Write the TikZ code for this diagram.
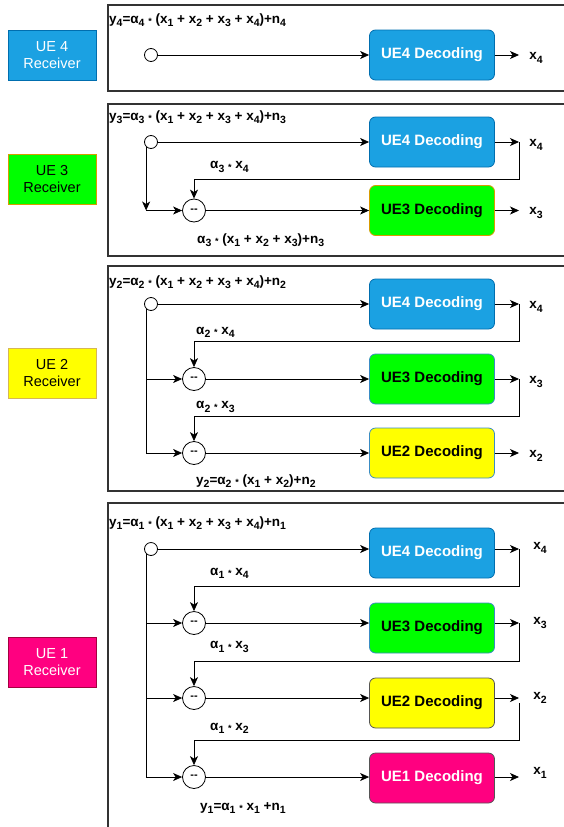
\documentclass[tikz,border=0pt]{standalone}
\usepackage{fontspec}
\setmainfont{Liberation Sans}
\usetikzlibrary{arrows.meta,calc}
\definecolor{ueblue}{HTML}{1BA1E2}
\definecolor{uegreen}{HTML}{00FF00}
\definecolor{ueyellow}{HTML}{FFFF00}
\definecolor{uemag}{HTML}{FF0080}
\definecolor{bblue}{HTML}{006EAF}
\definecolor{bgold}{HTML}{D79B00}
\definecolor{bgoldl}{HTML}{D6B656}
\definecolor{bsky}{HTML}{3A8CC4}
\definecolor{bgray}{HTML}{555555}
\definecolor{bmag}{HTML}{A50040}
\definecolor{framec}{HTML}{333333}
\newcommand\sbs[1]{\raisebox{-0.45ex}{\fontsize{10.5}{10}\selectfont #1}}
\newcommand\mystar{\raisebox{-0.15ex}{\fontsize{9}{9}\selectfont *}}
\begin{document}
\begin{tikzpicture}[x=1pt,y=-1pt,
  frame/.style={draw=framec, line width=1.3pt},
  dec/.style={draw, rounded corners=6pt, minimum width=125pt, minimum height=50pt, font=\fontsize{15}{17}\selectfont\bfseries, line width=0.8pt},
  rcv/.style={draw, minimum width=88pt, minimum height=50pt, align=center, font=\fontsize{14.5}{16.5}\selectfont, line width=0.8pt},
  src/.style={circle, draw, fill=white, minimum size=13pt, inner sep=0pt, line width=0.8pt},
  subtr/.style={circle, draw, fill=white, minimum size=23pt, inner sep=0pt, line width=0.8pt, font=\fontsize{11}{11}\selectfont\bfseries},
  lab/.style={anchor=west, font=\fontsize{13.5}{15}\selectfont\bfseries, inner sep=0pt},
  outl/.style={font=\fontsize{13.5}{15}\selectfont\bfseries, inner sep=0pt},
  conn/.style={line width=0.8pt, -{Stealth[length=9pt,width=8pt,inset=2.5pt]}},
  wire/.style={line width=0.8pt}]
\useasboundingbox (0,0) rectangle (564,827);
\clip (0,0) rectangle (564,827);

% receiver labels
\node[rcv, fill=ueblue, draw=bblue, text=white] (r4) at (52,55) {UE 4\\Receiver};
\node[rcv, fill=uegreen, draw=bgold] (r3) at (52,179) {UE 3\\Receiver};
\node[rcv, fill=ueyellow, draw=bgoldl] (r2) at (52,373) {UE 2\\Receiver};
\node[rcv, fill=uemag, draw=bmag, text=white] (r1) at (52,662) {UE 1\\Receiver};

% frames
\draw[frame] (108,5) rectangle (570,91);
\draw[frame] (108,104) rectangle (570,256);
\draw[frame] (108,266) rectangle (570,491);
\draw[frame] (108,503) rectangle (570,840);

% ---------- Panel 1 ----------
\node[lab] (t1) at (109,20) {y\sbs{4}=α\sbs{4} \mystar{} (x\sbs{1} + x\sbs{2} + x\sbs{3} + x\sbs{4})+n\sbs{4}};
\node[src] (c1) at (151,55) {};
\node[dec, fill=ueblue, draw=bblue, text=white] (d14) at (432,55) {UE4 Decoding};
\coordinate (o14) at (519,55);
\node[outl] (x14) at (536,58) {x\sbs{4}};
\draw[conn] (c1) -- (d14);
\draw[conn] (d14) -- (o14);

% ---------- Panel 2 ----------
\node[lab] (t2) at (109,117) {y\sbs{3}=α\sbs{3} \mystar{} (x\sbs{1} + x\sbs{2} + x\sbs{3} + x\sbs{4})+n\sbs{3}};
\node[src] (c2) at (151,142) {};
\node[dec, fill=ueblue, draw=bblue, text=white] (d24) at (432,142) {UE4 Decoding};
\node[dec, fill=uegreen, draw=bgold] (d23) at (432,210.5) {UE3 Decoding};
\node[subtr] (m21) at (194,210.5) {-{}-};
\coordinate (j21) at (c2.225 |- m21);
\coordinate (o24) at (519,142);
\coordinate (o23) at (519,210.5);
\draw[conn] (c2) -- (d24);
\draw[conn] (c2.225) -- (j21);
\draw[conn] (j21) -- (m21);
\draw[conn] (m21) -- (d23);
\draw[conn] (d24) -- (o24);
\draw[conn] (d23) -- (o23);
\draw[conn] (o24) -- ++(0,37) -| (m21.north);
\node[outl] (x24) at (536,145) {x\sbs{4}};
\node[outl] (x23) at (536,213) {x\sbs{3}};
\node[lab] (a24) at (210,167) {α\sbs{3} \mystar{} x\sbs{4}};
\node[lab] (b2) at (197,240) {α\sbs{3} \mystar{} (x\sbs{1} + x\sbs{2} + x\sbs{3})+n\sbs{3}};

% ---------- Panel 3 ----------
\node[lab] (t3) at (109,282) {y\sbs{2}=α\sbs{2} \mystar{} (x\sbs{1} + x\sbs{2} + x\sbs{3} + x\sbs{4})+n\sbs{2}};
\node[src] (c3) at (151,304) {};
\node[dec, fill=ueblue, draw=bblue, text=white] (d34) at (432,304) {UE4 Decoding};
\node[dec, fill=uegreen, draw=bsky] (d33) at (432,379) {UE3 Decoding};
\node[dec, fill=ueyellow, draw=bsky] (d32) at (432,453) {UE2 Decoding};
\node[subtr] (m31) at (194,379) {-{}-};
\node[subtr] (m32) at (194,453) {-{}-};
\coordinate (j31) at (c3.225 |- m31);
\coordinate (j32) at (c3.225 |- m32);
\coordinate (o34) at (519,304);
\coordinate (o33) at (519,379);
\coordinate (o32) at (519,453);
\draw[conn] (c3) -- (d34);
\draw[wire] (c3.225) -- (j32);
\draw[conn] (j31) -- (m31);
\draw[conn] (j32) -- (m32);
\draw[conn] (m31) -- (d33);
\draw[conn] (m32) -- (d32);
\draw[conn] (d34) -- (o34);
\draw[conn] (d33) -- (o33);
\draw[conn] (d32) -- (o32);
\draw[conn] (o34) -- ++(0,37) -| (m31.north);
\draw[conn] (o33) -- ++(0,37) -| (m32.north);
\node[outl] (x34) at (536,307) {x\sbs{4}};
\node[outl] (x33) at (536,382) {x\sbs{3}};
\node[outl] (x32) at (536,456) {x\sbs{2}};
\node[lab] (a34) at (196,332) {α\sbs{2} \mystar{} x\sbs{4}};
\node[lab] (a33) at (196,407) {α\sbs{2} \mystar{} x\sbs{3}};
\node[lab] (b3) at (196,481) {y\sbs{2}=α\sbs{2} \mystar{} (x\sbs{1} + x\sbs{2})+n\sbs{2}};

% ---------- Panel 4 ----------
\node[lab] (t4) at (109,523) {y\sbs{1}=α\sbs{1} \mystar{} (x\sbs{1} + x\sbs{2} + x\sbs{3} + x\sbs{4})+n\sbs{1}};
\node[src] (c4) at (151,549) {};
\node[dec, fill=ueblue, draw=bblue, text=white] (d44) at (432,553) {UE4 Decoding};
\node[dec, fill=uegreen, draw=bsky] (d43) at (432,628) {UE3 Decoding};
\node[dec, fill=ueyellow, draw=bgray] (d42) at (432,703) {UE2 Decoding};
\node[dec, fill=uemag, draw=bgray, text=white] (d41) at (432,778) {UE1 Decoding};
\node[subtr] (m41) at (194,623) {-{}-};
\node[subtr] (m42) at (194,698) {-{}-};
\node[subtr] (m43) at (194,777) {-{}-};
\coordinate (j41) at (c4.225 |- m41);
\coordinate (j42) at (c4.225 |- m42);
\coordinate (j43) at (c4.225 |- m43);
\coordinate (o44) at (519,549);
\coordinate (o43) at (519,623);
\coordinate (o42) at (519,698);
\coordinate (o41) at (519,777);
\draw[conn] (c4) -- (c4 -| d44.west);
\draw[wire] (c4.225) -- (j43);
\draw[conn] (j41) -- (m41);
\draw[conn] (j42) -- (m42);
\draw[conn] (j43) -- (m43);
\draw[conn] (m41) -- (m41 -| d43.west);
\draw[conn] (m42) -- (m42 -| d42.west);
\draw[conn] (m43) -- (m43 -| d41.west);
\draw[conn] (d44.east |- o44) -- (o44);
\draw[conn] (d43.east |- o43) -- (o43);
\draw[conn] (d42.east |- o42) -- (o42);
\draw[conn] (d41.east |- o41) -- (o41);
\draw[conn] (o44) -- ++(0,37) -| (m41.north);
\draw[conn] (o43) -- ++(0,38) -| (m42.north);
\draw[conn] ($(o42)+(0,5)$) -- ++(0,37) -| (m43.north);
\node[outl] (x44) at (540,548) {x\sbs{4}};
\node[outl] (x43) at (540,623) {x\sbs{3}};
\node[outl] (x42) at (540,698) {x\sbs{2}};
\node[outl] (x41) at (540,773) {x\sbs{1}};
\node[lab] (a44) at (210,573) {α\sbs{1} \mystar{} x\sbs{4}};
\node[lab] (a43) at (210,647) {α\sbs{1} \mystar{} x\sbs{3}};
\node[lab] (a42) at (210,728) {α\sbs{1} \mystar{} x\sbs{2}};
\node[lab] (b4) at (200,808) {y\sbs{1}=α\sbs{1} \mystar{} x\sbs{1} +n\sbs{1}};
\end{tikzpicture}
\end{document}
